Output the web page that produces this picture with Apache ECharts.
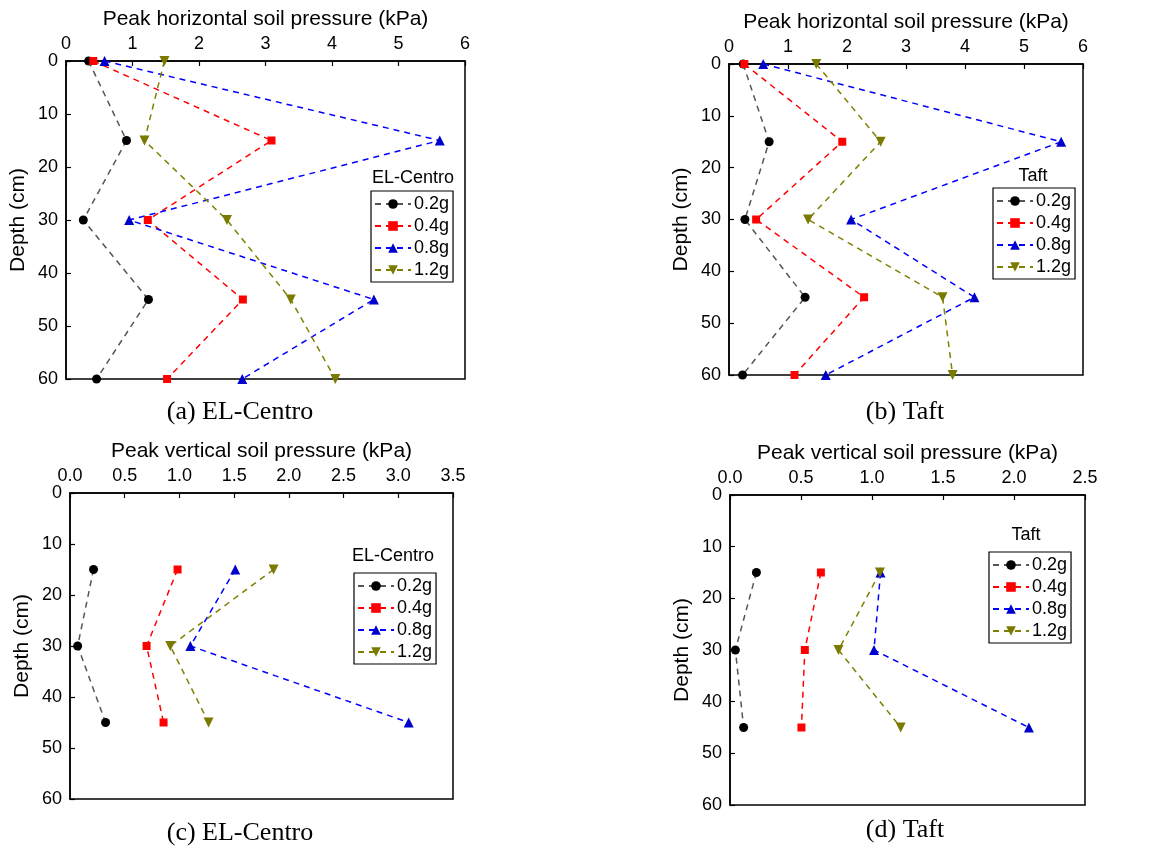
<!DOCTYPE html>
<html>
<head>
<meta charset="utf-8">
<script src="https://cdn.jsdelivr.net/npm/echarts@6/dist/echarts.min.js"></script>
<style>html,body{margin:0;padding:0;background:#fff}#c{width:1155px;height:848px}</style>
</head>
<body>
<div id="c"></div>
<script>
// ---- data ----
var depthsH = [0, 15, 30, 45, 60];
var depthsV = [15, 30, 45];
var levels = ['0.2g', '0.4g', '0.8g', '1.2g'];

// (a) EL-Centro horizontal
var hElCentro02 = [0.34, 0.91, 0.26, 1.24, 0.46];
var hElCentro04 = [0.41, 3.09, 1.23, 2.66, 1.52];
var hElCentro08 = [0.58, 5.62, 0.95, 4.63, 2.65];
var hElCentro12 = [1.48, 1.18, 2.42, 3.38, 4.05];
// (b) Taft horizontal
var hTaft02 = [0.24, 0.68, 0.27, 1.29, 0.23];
var hTaft04 = [0.26, 1.92, 0.46, 2.29, 1.11];
var hTaft08 = [0.58, 5.63, 2.07, 4.16, 1.64];
var hTaft12 = [1.48, 2.57, 1.34, 3.62, 3.79];
// (c) EL-Centro vertical
var vElCentro02 = [0.215, 0.07, 0.325];
var vElCentro04 = [0.983, 0.70, 0.855];
var vElCentro08 = [1.51, 1.10, 3.095];
var vElCentro12 = [1.86, 0.916, 1.266];
// (d) Taft vertical
var vTaft02 = [0.186, 0.038, 0.096];
var vTaft04 = [0.64, 0.527, 0.503];
var vTaft08 = [1.06, 1.014, 2.105];
var vTaft12 = [1.056, 0.764, 1.202];

var hTitle = 'Peak horizontal soil pressure (kPa)';
var vTitle = 'Peak vertical soil pressure (kPa)';
var yTitle = 'Depth (cm)';
var captions = ['(a) EL-Centro', '(b) Taft', '(c) EL-Centro', '(d) Taft'];
var legendTitles = ['EL-Centro', 'Taft', 'EL-Centro', 'Taft'];

// ---- styles ----
var styles = [
  {line: '#555555', mark: '#000000', symbol: 'circle', size: 9, rot: 0},
  {line: '#ff0000', mark: '#ff0000', symbol: 'rect', size: 8, rot: 0},
  {line: '#0000ff', mark: '#0000cc', symbol: 'triangle', size: 10, rot: 0},
  {line: '#808000', mark: '#7a7a00', symbol: 'triangle', size: 10, rot: 180}
];
var FONT = 'Liberation Sans, Arial, sans-serif';
var grids = [
  {left: 66, top: 61, width: 399, height: 318},
  {left: 729, top: 64, width: 354, height: 311},
  {left: 70, top: 493, width: 383, height: 306},
  {left: 730, top: 495, width: 355, height: 310}
];
var xCfg = [
  {max: 6, interval: 1, name: hTitle, dec: 0},
  {max: 6, interval: 1, name: hTitle, dec: 0},
  {max: 3.5, interval: 0.5, name: vTitle, dec: 1},
  {max: 2.5, interval: 0.5, name: vTitle, dec: 1}
];
var panelData = [
  [hElCentro02, hElCentro04, hElCentro08, hElCentro12],
  [hTaft02, hTaft04, hTaft08, hTaft12],
  [vElCentro02, vElCentro04, vElCentro08, vElCentro12],
  [vTaft02, vTaft04, vTaft08, vTaft12]
];
var panelDepths = [depthsH, depthsH, depthsV, depthsV];
var legendPos = [
  {left: 371, top: 191}, {left: 993, top: 188}, {left: 354, top: 573}, {left: 989, top: 552}
];
var legendTitlePos = [[413, 178], [1033, 176], [393, 556], [1026, 535]];
var captionPos = [[240, 412], [905, 412], [240, 833], [905, 830]];

var xAxes = [], yAxes = [], series = [], legends = [], graphics = [];
for (var p = 0; p < 4; p++) {
  (function (p) {
    var cfg = xCfg[p];
    xAxes.push({
      gridIndex: p, type: 'value', position: 'top', min: 0, max: cfg.max, interval: cfg.interval,
      name: cfg.name, nameLocation: 'middle', nameGap: 31,
      nameTextStyle: {fontFamily: FONT, fontSize: 21, color: '#000'},
      axisLine: {show: true, onZero: false, lineStyle: {color: '#000', width: 1.5}},
      axisTick: {show: true, inside: true, length: 5, lineStyle: {color: '#000', width: 1.2}},
      axisLabel: {fontFamily: FONT, fontSize: 18, color: '#000', margin: 8,
        formatter: function (v) { return v.toFixed(cfg.dec); }},
      splitLine: {show: false}
    });
    yAxes.push({
      gridIndex: p, type: 'value', inverse: true, min: 0, max: 60, interval: 10,
      name: yTitle, nameLocation: 'middle', nameGap: 37,
      nameTextStyle: {fontFamily: FONT, fontSize: 21, color: '#000'},
      axisLine: {show: true, onZero: false, lineStyle: {color: '#000', width: 1.5}},
      axisTick: {show: true, inside: true, length: 5, lineStyle: {color: '#000', width: 1.2}},
      axisLabel: {fontFamily: FONT, fontSize: 18, color: '#000', margin: 8},
      splitLine: {show: false}
    });
    var dep = panelDepths[p];
    for (var s = 0; s < 4; s++) {
      var st = styles[s];
      var vals = panelData[p][s];
      var d = [];
      for (var i = 0; i < vals.length; i++) d.push([vals[i], dep[i]]);
      series.push({
        type: 'line', name: levels[s], xAxisIndex: p, yAxisIndex: p, data: d,
        symbol: st.symbol, symbolSize: st.size, symbolRotate: st.rot, clip: false,
        lineStyle: {color: st.line, width: 1.5, type: [6, 5]},
        itemStyle: {color: st.mark},
        animation: false, z: 3
      });
    }
    legends.push({
      orient: 'vertical', left: legendPos[p].left, top: legendPos[p].top,
      data: levels, itemWidth: 36, itemHeight: 12, itemGap: 4,
      padding: [4, 4, 3, 3], borderColor: '#000', borderWidth: 1.2,
      textStyle: {fontFamily: FONT, fontSize: 18, color: '#000', padding: [0, 0, 0, -2]},
      selectedMode: false
    });
    graphics.push({
      type: 'text', x: legendTitlePos[p][0], y: legendTitlePos[p][1],
      style: {text: legendTitles[p], font: '18px ' + FONT, fill: '#000',
        textAlign: 'center', textVerticalAlign: 'middle'}
    });
    graphics.push({
      type: 'text', x: captionPos[p][0], y: captionPos[p][1],
      style: {text: captions[p], font: '26px Liberation Serif, Times New Roman, serif', fill: '#000',
        textAlign: 'center', textVerticalAlign: 'middle'}
    });
  })(p);
}

var chart = echarts.init(document.getElementById('c'), null, {renderer: 'canvas'});
chart.setOption({
  backgroundColor: '#fff',
  animation: false,
  grid: grids.map(function (g) {
    return Object.assign({show: true, borderColor: '#000', borderWidth: 1.5, backgroundColor: 'transparent'}, g);
  }),
  xAxis: xAxes,
  yAxis: yAxes,
  legend: legends,
  series: series,
  graphic: graphics
});
</script>
</body>
</html>
